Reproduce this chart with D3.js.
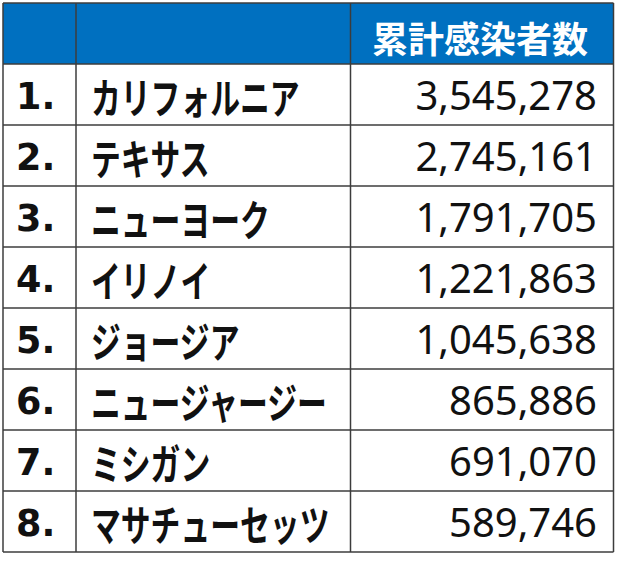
<!DOCTYPE html>
<html><head><meta charset="utf-8">
<script src="https://cdn.jsdelivr.net/npm/d3@7"></script>
<style>body{margin:0;background:#fff}</style>
</head><body>
<script>
const ranks = ["1.","2.","3.","4.","5.","6.","7.","8."];
const states = ["カリフォルニア","テキサス","ニューヨーク","イリノイ","ジョージア","ニュージャージー","ミシガン","マサチューセッツ"];
const cases = [3545278,2745161,1791705,1221863,1045638,865886,691070,589746];
const header = "累計感染者数";

(function(){
const W = 617, H = 566;
const svg = d3.select("body").append("svg").attr("width", W).attr("height", H);
const x0 = 3, x1 = 613.5, y0 = 3, rowH = 61;
const colX = [x0, 76, 350.5, x1];
const y = d3.scaleBand().domain(d3.range(9)).range([y0, y0 + rowH*9]);

svg.append("rect").attr("x", x0).attr("y", y0).attr("width", x1-x0).attr("height", y.bandwidth())
  .attr("fill", "#0070C0");

const fmt = d3.format(",");
const jp = "'Noto Sans CJK JP', sans-serif";
const lat = "'Noto Sans', sans-serif";

svg.append("text").attr("x", 588).attr("y", y(0) + 33.5)
  .attr("text-anchor","end").attr("dominant-baseline","central")
  .attr("font-family", jp).attr("font-weight", 700).attr("font-size", 36).attr("fill","#fff")
  .text(header);

const rows = svg.selectAll("g.row").data(states).join("g").attr("class","row")
  .attr("transform", (d,i) => `translate(0,${y(i+1)})`);

rows.append("text").attr("x", 16).attr("y", 45)
  .attr("font-family", "'DejaVu Sans', sans-serif").attr("font-weight", 700).attr("font-size", 36.5).attr("fill","#111")
  .text((d,i) => ranks[i]);
rows.append("text")
  .attr("transform", "translate(91,31.5) scale(0.71,1)")
  .attr("dominant-baseline","central")
  .attr("font-family", jp).attr("font-weight", 700).attr("font-size", 42).attr("fill","#111")
  .text(d => d);
rows.append("text").attr("x", 597).attr("y", 46).attr("text-anchor","end")
  .attr("font-family", lat).attr("font-weight", 400).attr("font-size", 40).attr("fill","#111")
  .text((d,i) => fmt(cases[i]));

const lines = svg.append("g").attr("stroke","#3c3c3c").attr("stroke-width",1.5);
d3.range(10).forEach(i => {
  lines.append("line").attr("x1", x0).attr("x2", x1)
    .attr("y1", y0 + i*rowH).attr("y2", y0 + i*rowH);
});
colX.forEach(x => {
  lines.append("line").attr("x1", x).attr("x2", x).attr("y1", y0).attr("y2", y0 + rowH*9);
});
})();
</script>
</body></html>
